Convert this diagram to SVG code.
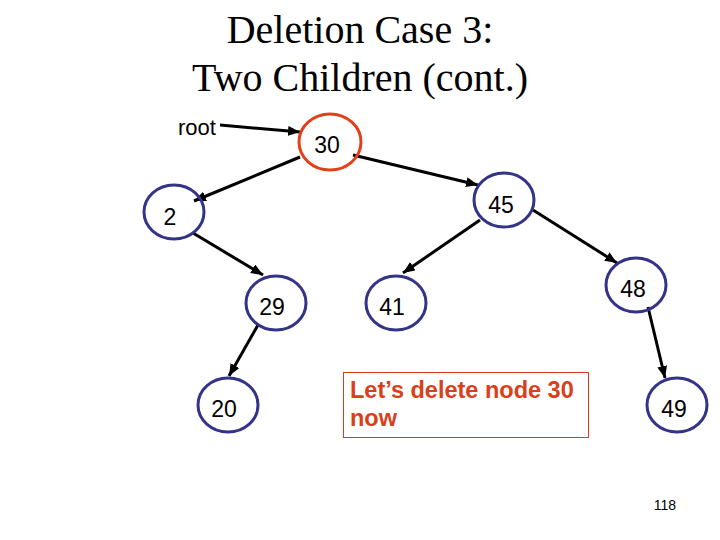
<svg xmlns="http://www.w3.org/2000/svg" width="720" height="540" viewBox="0 0 720 540">
<style>
.title{font-family:"Liberation Serif","Times New Roman",serif;font-size:40px;fill:#000;text-anchor:middle}
.node ellipse{fill:none;stroke:#333388;stroke-width:3}
.node.del ellipse{stroke:#E3401A}
.lbl{font-family:"Liberation Sans",Arial,sans-serif;font-size:23px;fill:#000;text-anchor:middle}
.edge{stroke:#000;stroke-width:3;fill:none;marker-end:url(#ah)}
.note{font-family:"Liberation Sans",Arial,sans-serif;font-size:23.5px;font-weight:bold;fill:#D9401A}
</style>
<defs>
<marker id="ah" markerUnits="userSpaceOnUse" markerWidth="12" markerHeight="10" refX="12" refY="5" orient="auto" viewBox="0 0 12 10">
<path d="M0,0 L12,5 L0,10 z" fill="#000"/>
</marker>
</defs>
<rect width="720" height="540" fill="#fff"/>
<g id="title">
<text class="title" x="360" y="43">Deletion Case 3:</text>
<text class="title" x="360" y="91">Two Children (cont.)</text>
</g>
<g id="connectors">
<line class="edge" x1="220" y1="125" x2="300" y2="132"/>
<line class="edge" x1="300" y1="157" x2="194" y2="201"/>
<line class="edge" x1="353" y1="155" x2="478" y2="185"/>
<line class="edge" x1="533" y1="210" x2="617" y2="263"/>
<line class="edge" x1="193" y1="233" x2="263" y2="275"/>
<line class="edge" x1="480" y1="220" x2="403" y2="273"/>
<line class="edge" x1="258" y1="325" x2="229" y2="376"/>
<line class="edge" x1="648" y1="307" x2="665" y2="378"/>
</g>
<g id="root-label"><text class="lbl" x="197" y="135" style="font-size:22px">root</text></g>
<g id="n30" class="node del"><ellipse cx="330" cy="142" rx="31" ry="28"/><text class="lbl" x="327" y="153">30</text></g>
<g id="n2" class="node"><ellipse cx="174" cy="212" rx="30" ry="27"/><text class="lbl" x="170" y="225">2</text></g>
<g id="n45" class="node"><ellipse cx="504" cy="200" rx="30" ry="27"/><text class="lbl" x="501" y="213">45</text></g>
<g id="n29" class="node"><ellipse cx="276" cy="303" rx="30" ry="27"/><text class="lbl" x="272" y="315">29</text></g>
<g id="n41" class="node"><ellipse cx="396" cy="303" rx="30" ry="27"/><text class="lbl" x="392" y="315">41</text></g>
<g id="n48" class="node"><ellipse cx="636" cy="285" rx="30" ry="27"/><text class="lbl" x="633" y="297">48</text></g>
<g id="n20" class="node"><ellipse cx="228" cy="405" rx="30" ry="27"/><text class="lbl" x="224" y="417">20</text></g>
<g id="n49" class="node"><ellipse cx="677" cy="405" rx="30" ry="27"/><text class="lbl" x="674" y="417">49</text></g>
<g id="note">
<rect x="343.5" y="372.5" width="245" height="65" fill="none" stroke="#D9401A" stroke-width="1"/>
<text class="note" x="350" y="398">Let’s delete node 30</text>
<text class="note" x="350" y="426">now</text>
</g>
<g id="page"><text x="665" y="510" style="font-family:'Liberation Sans',Arial,sans-serif;font-size:14px;text-anchor:middle;fill:#000">118</text></g>
</svg>
